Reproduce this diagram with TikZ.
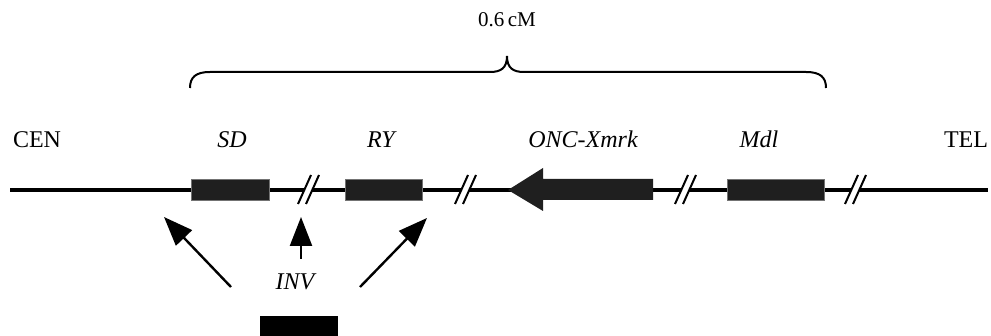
\documentclass[tikz,border=0pt]{standalone}
\usepackage{fontspec}
\setmainfont{Liberation Serif}
\usetikzlibrary{arrows.meta, positioning}
\tikzset{
    gene/.style={fill=black!88, draw=black!55, line width=0.3pt, inner sep=0pt, minimum height=10.5pt},
    genename/.style={font=\fontsize{12}{14}\selectfont\itshape, anchor=base},
    endname/.style={font=\fontsize{12}{14}\selectfont, anchor=base},
    hit/.style={line width=1.2pt, -{Triangle[length=14.5pt, width=11pt]}},
}
% Bruchstelle im Chromosom
\newcommand{\chrbreak}[1]{%
  \fill[white] (#1-11,204) -- (#1+2,175) -- (#1+10,175) -- (#1-3,204) -- cycle;
  \draw[line width=1pt] (#1-11,204) -- (#1+2,175);
  \draw[line width=1pt] (#1-3,204) -- (#1+10,175);
}

\begin{document}
\begin{tikzpicture}[x=0.5pt, y=-0.5pt]
  \useasboundingbox (0,0) rectangle (991,336);

  % Chromosom
  \coordinate (left) at (10,190);
  \coordinate (right) at (988,190);
  \draw[line width=2pt] (left) -- (right);

  % Gene
  \node[gene, minimum width=39pt] (sdbox) at (230,189.5) {};
  \node[gene, minimum width=38.5pt] (rybox) at (383.5,189.5) {};
  \node[gene, minimum width=48.5pt] (mdlbox) at (775.5,189.5) {};
  \fill[black!88] (508,190) -- (543,168) -- (543,179) -- (653,179)
    -- (653,200) -- (543,200) -- (543,211) -- cycle;

  % Bruchstellen
  \chrbreak{309}
  \chrbreak{466}
  \chrbreak{686}
  \chrbreak{856}

  % Beschriftung
  \node[endname] (cen) at (37,148) {CEN};
  \node[genename] (sd) at (232,148) {SD};
  \node[genename] (ry) at (381,148) {RY};
  \node[genename] (onc) at (583,148) {ONC-Xmrk};
  \node[genename] (mdl) at (759,148) {Mdl};
  \node[endname] (tel) at (966,148) {TEL};

  % Klammer
  \draw[line width=1pt] (190,88) .. controls (190,77) and (196,72) .. (210,72)
    -- (490,72) .. controls (501,72) and (507,68) .. (507,56)
    .. controls (507,68) and (513,72) .. (524,72)
    -- (806,72) .. controls (820,72) and (826,77) .. (826,88);
  \node[font=\fontsize{10.5}{12}\selectfont, anchor=base] (dist) at (507,27) {0.6\,cM};

  % Inversion
  \node[fill=black, inner sep=0pt, minimum width=39pt, minimum height=10pt] (invbar) at (299,326) {};
  \node[genename] (inv) at (295,290) {INV};
  \coordinate (tailA) at (231,287);
  \coordinate (tipA) at (164,217);
  \coordinate (tailB) at (301,259);
  \coordinate (tipB) at (301,217);
  \coordinate (tailC) at (360,287);
  \coordinate (tipC) at (427,218);
  \draw[hit] (tailA) -- (tipA);
  \draw[hit] (tailB) -- (tipB);
  \draw[hit] (tailC) -- (tipC);

\end{tikzpicture}
\end{document}
